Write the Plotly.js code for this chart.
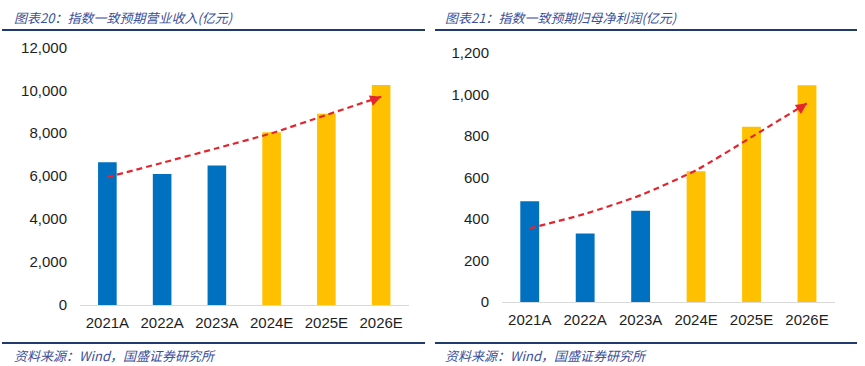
<!DOCTYPE html>
<html><head><meta charset="utf-8">
<script src="https://cdn.plot.ly/plotly-3.0.1.min.js"></script>
<style>html,body{margin:0;padding:0;background:#fff}#chart{width:865px;height:366px}</style>
</head><body><div id="chart"></div>
<script>
const years = ['2021A','2022A','2023A','2024E','2025E','2026E'];
const revenue = [6650, 6100, 6500, 8050, 8900, 10250];
const revenueTrend = [5950, 6620, 7300, 8000, 8850, 9700];
const profit = [485, 330, 440, 630, 845, 1045];
const profitTrend = [355, 425, 515, 635, 795, 958];
const yTicksRevenue = [0, 2000, 4000, 6000, 8000, 10000, 12000];
const yTicksProfit = [0, 200, 400, 600, 800, 1000, 1200];
const titleLeft = '图表20：指数一致预期营业收入(亿元)';
const titleRight = '图表21：指数一致预期归母净利润(亿元)';
const sourceText = '资料来源：Wind，国盛证券研究所';

const W = 865, H = 366;
const px = v => v / W;
const py = v => (H - v) / H;
const barColors = years.map(y => y.endsWith('E') ? '#FFC000' : '#0070C0');
const trendColor = '#E3262E';
const tickFont = {family: 'Liberation Sans, Arial, sans-serif', size: 15, color: '#1e1e1e'};
const noteFont = {family: 'Noto Sans CJK SC, sans-serif', size: 13, color: '#3c4f9a', style: 'italic'};
const last = years.length - 1;

function trendTrace(y, xa, ya) {
  return {
    type: 'scatter', x: years, y: y, xaxis: xa, yaxis: ya,
    mode: 'lines', hoverinfo: 'skip',
    line: {shape: 'spline', smoothing: 0.6, dash: '6px,4px', width: 2.2, color: trendColor}
  };
}
function arrowHead(y, xa, ya, ax, ay) {
  return {x: years[last], y: y[last], xref: xa, yref: ya, ax: ax, ay: ay, text: '',
    showarrow: true, arrowhead: 2, arrowsize: 1.1, arrowwidth: 2, arrowcolor: trendColor};
}

const data = [
  {type: 'bar', x: years, y: revenue, xaxis: 'x', yaxis: 'y', marker: {color: barColors}},
  trendTrace(revenueTrend, 'x', 'y'),
  {type: 'bar', x: years, y: profit, xaxis: 'x2', yaxis: 'y2', marker: {color: barColors}},
  trendTrace(profitTrend, 'x2', 'y2')
];

function xAxis(domain, anchor) {
  return {domain: domain, anchor: anchor, type: 'category', showgrid: false, zeroline: false,
    showline: true, linecolor: '#d9d9d9', linewidth: 1, ticks: '', tickfont: tickFont,
    ticklabelstandoff: 4, fixedrange: true};
}
function yAxis(domain, anchor, range, ticks) {
  return {domain: domain, anchor: anchor, range: range, tickvals: ticks, tickformat: ',d',
    showgrid: false, zeroline: false, showline: false, ticks: '', tickfont: tickFont,
    ticklabelstandoff: 12, fixedrange: true};
}

const layout = {
  width: W, height: H, margin: {l: 0, r: 0, t: 0, b: 0},
  paper_bgcolor: '#fff', plot_bgcolor: '#fff', showlegend: false, bargap: 0.66,
  xaxis: xAxis([px(80), px(408.5)], 'y'),
  yaxis: yAxis([py(305), py(47.3)], 'x', [0, 12000], yTicksRevenue),
  xaxis2: xAxis([px(502), px(834.7)], 'y2'),
  yaxis2: yAxis([py(302), py(53)], 'x2', [0, 1200], yTicksProfit),
  shapes: [
    {type: 'line', xref: 'paper', yref: 'paper', x0: px(2), x1: px(425), y0: py(30), y1: py(30), line: {color: '#1f3a6e', width: 2}},
    {type: 'line', xref: 'paper', yref: 'paper', x0: px(435), x1: px(857), y0: py(30), y1: py(30), line: {color: '#1f3a6e', width: 2}},
    {type: 'line', xref: 'paper', yref: 'paper', x0: px(2), x1: px(425), y0: py(343), y1: py(343), line: {color: '#1f3a6e', width: 2}},
    {type: 'line', xref: 'paper', yref: 'paper', x0: px(435), x1: px(857), y0: py(343), y1: py(343), line: {color: '#1f3a6e', width: 2}}
  ],
  annotations: [
    arrowHead(revenueTrend, 'x', 'y', -9, 3.5),
    arrowHead(profitTrend, 'x2', 'y2', -8, 5.5),
    {text: titleLeft, xref: 'paper', yref: 'paper', x: px(12), y: py(17), xanchor: 'left', yanchor: 'middle', showarrow: false, font: noteFont},
    {text: titleRight, xref: 'paper', yref: 'paper', x: px(443), y: py(17), xanchor: 'left', yanchor: 'middle', showarrow: false, font: noteFont},
    {text: sourceText, xref: 'paper', yref: 'paper', x: px(12), y: py(355), xanchor: 'left', yanchor: 'middle', showarrow: false, font: noteFont},
    {text: sourceText, xref: 'paper', yref: 'paper', x: px(443), y: py(355), xanchor: 'left', yanchor: 'middle', showarrow: false, font: noteFont}
  ]
};

Plotly.newPlot('chart', data, layout, {displayModeBar: false, staticPlot: true});
</script>
</body></html>
